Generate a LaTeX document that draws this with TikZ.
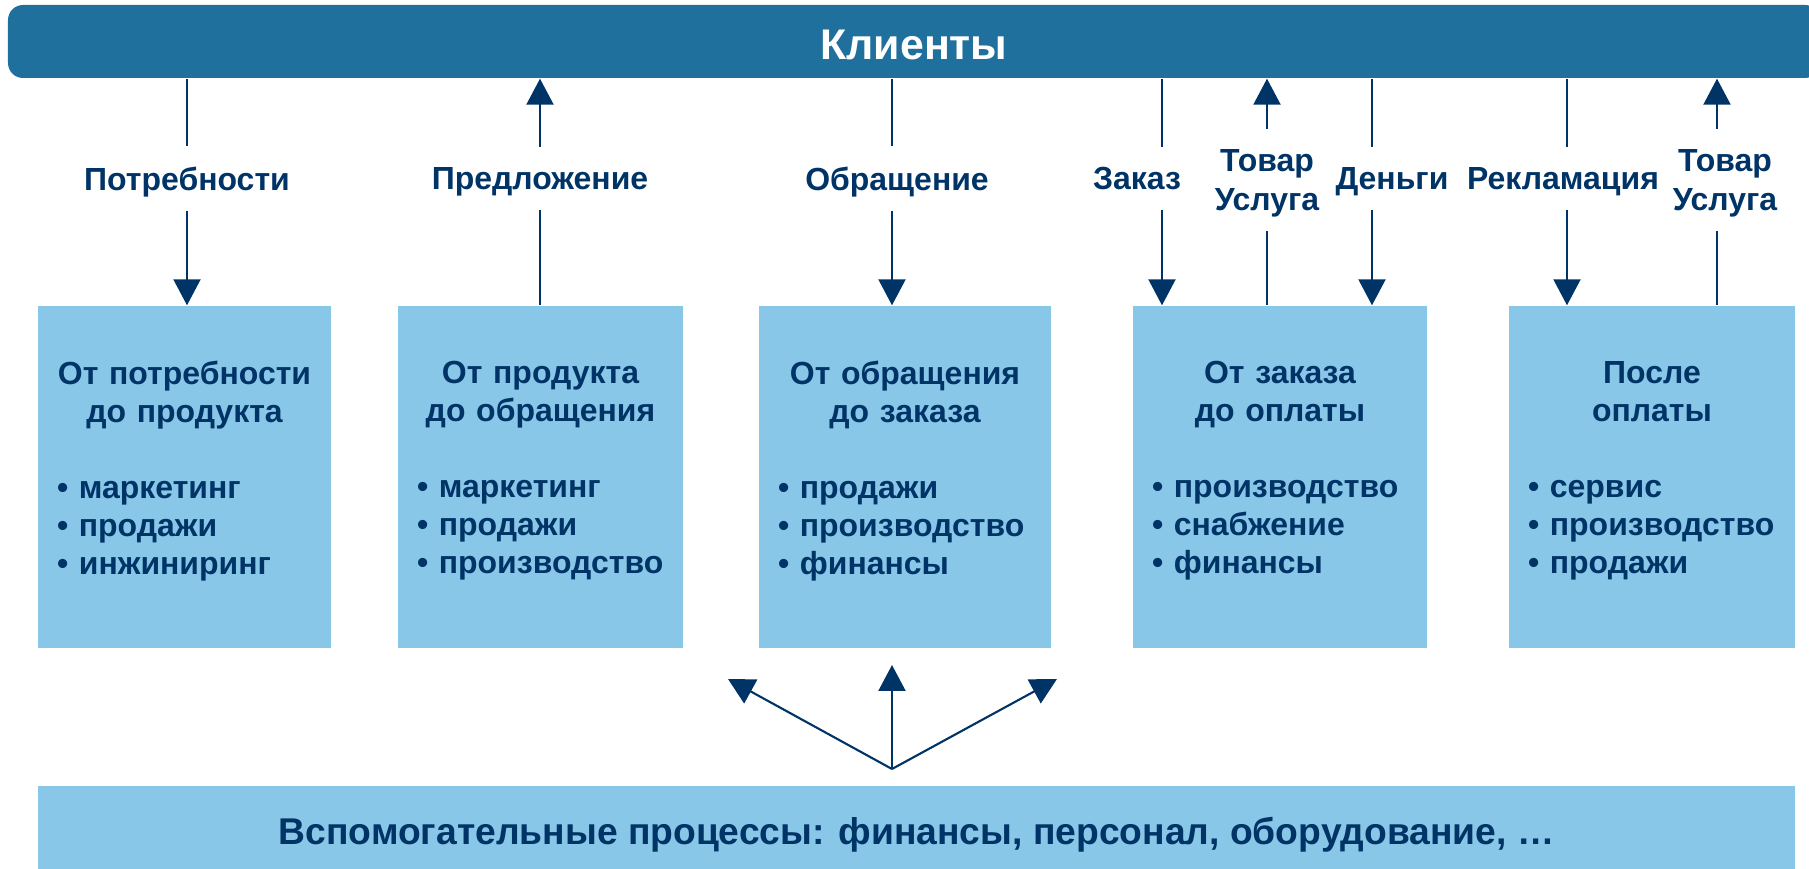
\documentclass[tikz,border=0pt]{standalone}
\usepackage{fontspec}
\setmainfont{Liberation Sans}
\usetikzlibrary{arrows.meta, positioning}
\definecolor{kliblue}{RGB}{31,112,157}
\definecolor{procblue}{RGB}{137,199,232}
\definecolor{navy}{RGB}{0,51,102}

\begin{document}
\begin{tikzpicture}[
    proc/.style={fill=procblue, text=navy, inner xsep=0.19cm, inner ysep=0pt, text width=#1, minimum height=3.42cm, font=\bfseries\fontsize{9.1}{10.8}\selectfont},
    flowlabel/.style={text=navy, align=center, inner xsep=0pt, inner ysep=0.2cm, text depth=0pt, font=\bfseries\fontsize{9.1}{11}\selectfont},
    link/.style={navy, line width=0.6pt},
    linkarrow/.style={link, -{Triangle[width=0.27cm,length=0.26cm]}}
]
    \clip (0,0) rectangle (18.09,8.69);

    % Clients bar
    \node[fill=kliblue, rounded corners=0.15cm, minimum width=18.12cm, minimum height=0.73cm, text height=0.37cm, text=white, font=\bfseries\fontsize{12.2}{14}\selectfont] (kl) at (9.14,8.275) {Клиенты};

    % Process boxes
    \node[proc=2.55cm] (p1) at (1.845,3.92) {\centering От потребности\\до продукта\par\vspace{\baselineskip}\raggedright • маркетинг\\• продажи\\• инжиниринг\par\vspace{0.12cm}};
    \node[proc=2.47cm] (p2) at (5.405,3.92) {\centering От продукта\\до обращения\par\vspace{\baselineskip}\raggedright • маркетинг\\• продажи\\• производство\par\vspace{0.12cm}};
    \node[proc=2.54cm] (p3) at (9.05,3.92) {\centering От обращения\\до заказа\par\vspace{\baselineskip}\raggedright • продажи\\• производство\\• финансы\par\vspace{0.12cm}};
    \node[proc=2.56cm] (p4) at (12.80,3.92) {\centering От заказа\\до оплаты\par\vspace{\baselineskip}\raggedright • производство\\• снабжение\\• финансы\par\vspace{0.12cm}};
    \node[proc=2.48cm] (p5) at (16.52,3.92) {\centering После\\оплаты\par\vspace{\baselineskip}\raggedright • сервис\\• производство\\• продажи\par\vspace{0.12cm}};

    % Flow lines x
    \coordinate (f1) at (1.87,6.9);
    \coordinate (f2) at (5.40,6.9);
    \coordinate (f3) at (8.92,6.9);
    \coordinate (f4) at (11.62,6.9);
    \coordinate (f5) at (12.67,6.9);
    \coordinate (f6) at (13.72,6.9);
    \coordinate (f7) at (15.67,6.9);
    \coordinate (f8) at (17.17,6.9);

    % Flow labels
    \node[flowlabel] (n1) at (1.87,6.905) {Потребности};
    \node[flowlabel] (n2) at (5.40,6.905) {Предложение};
    \node[flowlabel] (n3) at (8.97,6.905) {Обращение};
    \node[flowlabel] (n4) at (11.37,6.905) {Заказ};
    \node[flowlabel] (n5) at (12.67,6.89) {Товар\\Услуга};
    \node[flowlabel] (n6) at (13.92,6.905) {Деньги};
    \node[flowlabel] (n7) at (15.63,6.905) {Рекламация};
    \node[flowlabel] (n8) at (17.25,6.89) {Товар\\Услуга};

    % Down: clients to process
    \draw[link] (kl.south -| f1) -- (n1.north -| f1);
    \draw[linkarrow] (n1.south -| f1) -- (p1.north -| f1);
    \draw[link] (kl.south -| f3) -- (n3.north -| f3);
    \draw[linkarrow] (n3.south -| f3) -- (p3.north -| f3);
    \draw[link] (kl.south -| f4) -- (n4.north -| f4);
    \draw[linkarrow] (n4.south -| f4) -- (p4.north -| f4);
    \draw[link] (kl.south -| f6) -- (n6.north -| f6);
    \draw[linkarrow] (n6.south -| f6) -- (p4.north -| f6);
    \draw[link] (kl.south -| f7) -- (n7.north -| f7);
    \draw[linkarrow] (n7.south -| f7) -- (p5.north -| f7);

    % Up: process to clients
    \draw[link] (p2.north -| f2) -- (n2.south -| f2);
    \draw[linkarrow] (n2.north -| f2) -- (kl.south -| f2);
    \draw[link] (p4.north -| f5) -- (n5.south -| f5);
    \draw[linkarrow] (n5.north -| f5) -- (kl.south -| f5);
    \draw[link] (p5.north -| f8) -- (n8.south -| f8);
    \draw[linkarrow] (n8.north -| f8) -- (kl.south -| f8);

    % Support processes
    \node[fill=procblue, text=navy, minimum width=17.57cm, minimum height=0.90cm, text depth=0pt, font=\bfseries\fontsize{10.6}{12}\selectfont] (aux) at (9.165,0.38) {Вспомогательные процессы: финансы, персонал, оборудование, …};
    \coordinate (fan) at (8.92,1.00);
    \coordinate (fanL) at (7.28,1.90);
    \coordinate (fanM) at (8.92,2.04);
    \coordinate (fanR) at (10.57,1.90);
    \draw[linkarrow] (fan) -- (fanL);
    \draw[linkarrow] (fan) -- (fanM);
    \draw[linkarrow] (fan) -- (fanR);
\end{tikzpicture}
\end{document}
